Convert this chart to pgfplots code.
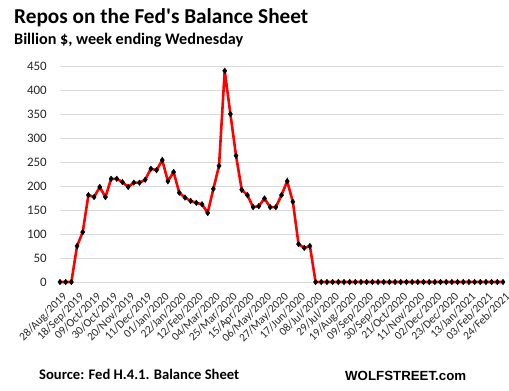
\documentclass[border=0pt]{standalone}
\usepackage{fontspec}
\setmainfont{Carlito}[Ligatures=TeXOff]
\newfontfamily\arialfont{Liberation Sans}
\usepackage{graphicx}
\usepackage{pgfplots}
\pgfplotsset{compat=1.18}
\definecolor{gridgray}{HTML}{D9D9D9}
\definecolor{tickgray}{HTML}{262626}
\begin{document}
\begin{tikzpicture}[x=1bp,y=1bp]
\path[use as bounding box] (0,0) rectangle (509,390);
\node[anchor=base west,inner sep=0pt] at (14,367) {\resizebox{294bp}{!}{\fontsize{19}{22}\selectfont\bfseries Repos on the Fed's Balance Sheet}};
\node[anchor=base west,inner sep=0pt] at (14,345.7) {\resizebox{229bp}{!}{\fontsize{14.5}{17}\selectfont\bfseries Billion \$, week ending Wednesday}};
\begin{axis}[
  at={(60bp,108bp)}, anchor=south west,
  scale only axis, width=443bp, height=216bp,
  xmin=0, xmax=78, ymin=0, ymax=450,
  axis line style={draw=none},
  major tick length=0pt,
  ymajorgrids, grid style={gridgray, line width=1bp},
  ytick={0,50,...,450},
  xtick={0,3,...,78},
  xticklabels={28/Aug/2019,18/Sep/2019,09/Oct/2019,30/Oct/2019,20/Nov/2019,11/Dec/2019,01/Jan/2020,22/Jan/2020,12/Feb/2020,04/Mar/2020,25/Mar/2020,15/Apr/2020,06/May/2020,27/May/2020,17/Jun/2020,08/Jul/2020,29/Jul/2020,19/Aug/2020,09/Sep/2020,30/Sep/2020,21/Oct/2020,11/Nov/2020,02/Dec/2020,23/Dec/2020,13/Jan/2021,03/Feb/2021,24/Feb/2021},
  /pgf/number format/assume math mode=true,
  yticklabel style={font=\fontsize{13}{15}\selectfont, text=tickgray, anchor=east, inner sep=0pt, xshift=-13bp},
  xticklabel style={font=\fontsize{11.5}{13}\selectfont, text=tickgray, rotate=45, anchor=north east, inner sep=0pt, yshift=-8bp, xshift=-5.5bp},
  clip=false,
]
\addplot[red, line width=2.6bp, mark=diamond*, mark size=2.8bp, mark options={black, fill=black, line width=0.4bp}] coordinates {
(0,0)(1,0)(2,0)(3,75)(4,104)(5,181)(6,177)(7,198)(8,177)(9,215)
(10,215)(11,208)(12,198)(13,207)(14,207)(15,213)(16,236)(17,233)(18,254)(19,210)
(20,229)(21,186)(22,176)(23,169)(24,165)(25,162)(26,144)(27,194)(28,242)(29,440)
(30,350)(31,263)(32,192)(33,181)(34,156)(35,158)(36,174)(37,156)(38,156)(39,181)
(40,210)(41,167)(42,79)(43,71)(44,75)(45,0)(46,0)(47,0)(48,0)(49,0)
(50,0)(51,0)(52,0)(53,0)(54,0)(55,0)(56,0)(57,0)(58,0)(59,0)
(60,0)(61,0)(62,0)(63,0)(64,0)(65,0)(66,0)(67,0)(68,0)(69,0)
(70,0)(71,0)(72,0)(73,0)(74,0)(75,0)(76,0)(77,0)(78,0)
};
\end{axis}
\node[anchor=base west,inner sep=0pt] at (39,10.7) {\resizebox{200bp}{!}{\fontsize{13.5}{16}\selectfont\bfseries Source: Fed H.4.1. Balance Sheet}};
\node[anchor=base west,inner sep=0pt] at (345,10) {\resizebox{121bp}{!}{\arialfont\fontsize{13}{15}\selectfont\bfseries WOLFSTREET.com}};
\end{tikzpicture}
\end{document}
